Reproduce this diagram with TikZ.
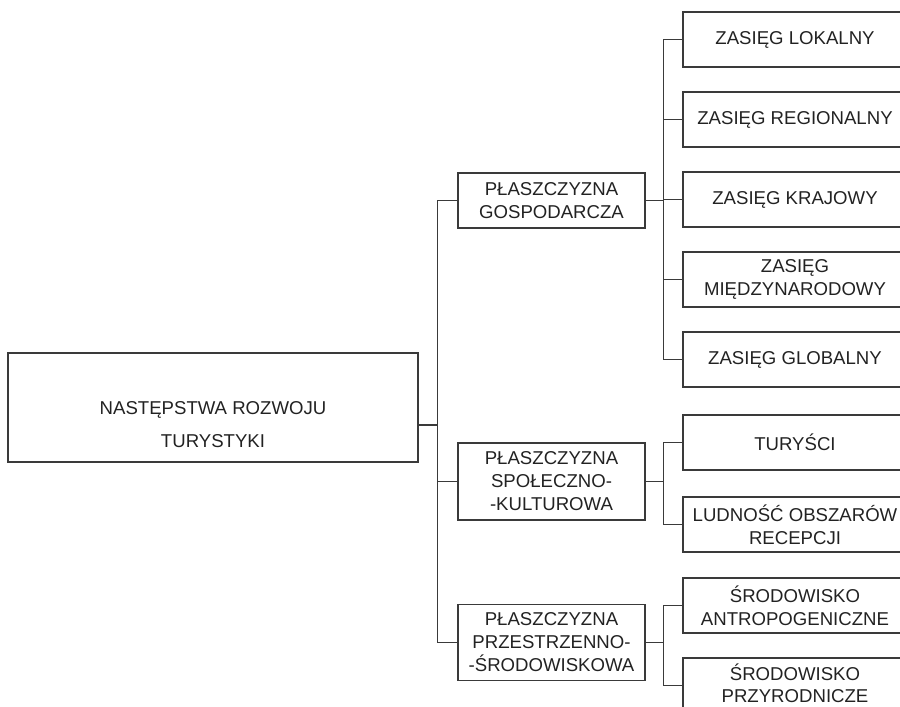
\documentclass[tikz,border=0pt]{standalone}
\usepackage{fontspec}
\setmainfont{Liberation Sans}
\definecolor{chartline}{HTML}{3A3A3A}
\definecolor{charttext}{HTML}{222222}

\begin{document}
\begin{tikzpicture}[
  x=1pt,
  y=-1pt,
  every node/.style={font=\fontsize{18.6}{23}\selectfont, charttext},
  box/.style={draw=chartline, line width=1.2pt, align=center, inner sep=0pt},
  rootbox/.style={box, minimum width=410, minimum height=109},
  midbox/.style={box, minimum width=187},
  leafbox/.style={box, minimum width=224, minimum height=55},
  link/.style={chartline, line width=1.2pt}
]
  \useasboundingbox (0,0) rectangle (900,707);
  \clip (0,0) rectangle (900,707);

  % ---- root ----
  \node[rootbox] (root) at (213,407.5) {};
  \node[align=center, font=\fontsize{18.6}{33}\selectfont] (roottxt) at (213,425)
    {NASTĘPSTWA ROZWOJU\\TURYSTYKI};

  % ---- three planes ----
  \node[midbox, minimum height=55] (gosp) at (551.5,200.5) {PŁASZCZYZNA\\GOSPODARCZA};
  \node[midbox, minimum height=77] (spol) at (551.5,481.5) {PŁASZCZYZNA\\SPOŁECZNO-\\-KULTUROWA};
  \node[midbox, minimum height=76] (prze) at (551.5,642.5) {PŁASZCZYZNA\\PRZESTRZENNO-\\-ŚRODOWISKOWA};

  % ---- leaves ----
  \node[leafbox] (lok)  at (795,39.5)  {ZASIĘG LOKALNY};
  \node[leafbox] (reg)  at (795,119.5) {ZASIĘG REGIONALNY};
  \node[leafbox] (kraj) at (795,199.5) {ZASIĘG KRAJOWY};
  \node[leafbox] (mdz)  at (795,279.5) {ZASIĘG\\MIĘDZYNARODOWY};
  \node[leafbox] (glob) at (795,359.5) {ZASIĘG GLOBALNY};

  \node[leafbox] (tur)  at (795,442.5) {TURYŚCI};
  \node[leafbox] (ludn) at (795,524.5) {LUDNOŚĆ OBSZARÓW\\RECEPCJI};

  \node[leafbox] (antr) at (795,605.5) {ŚRODOWISKO\\ANTROPOGENICZNE};
  % last box runs off the bottom edge
  \node[leafbox, minimum height=51, font=\fontsize{18.6}{22}\selectfont] (przy) at (795,683.5)
    {ŚRODOWISKO\\PRZYRODNICZE};

  % ---- connectors ----
  \foreach \plane in {gosp,spol,prze}
    \draw[link] (roottxt -| root.east) -- ++(19,0) |- (\plane.west);
  \foreach \leaf in {lok,reg,kraj,mdz,glob}
    \draw[link] (gosp.east) -- ++(18,0) |- (\leaf.west);
  \foreach \leaf in {tur,ludn}
    \draw[link] (spol.east) -- ++(18,0) |- (\leaf.west);
  \draw[link] (prze.east) -- ++(18,0) |- (antr.west);
  \draw[link] (prze.east) -- ++(18,0) |- ([yshift=-2pt]przy.west);
\end{tikzpicture}
\end{document}
